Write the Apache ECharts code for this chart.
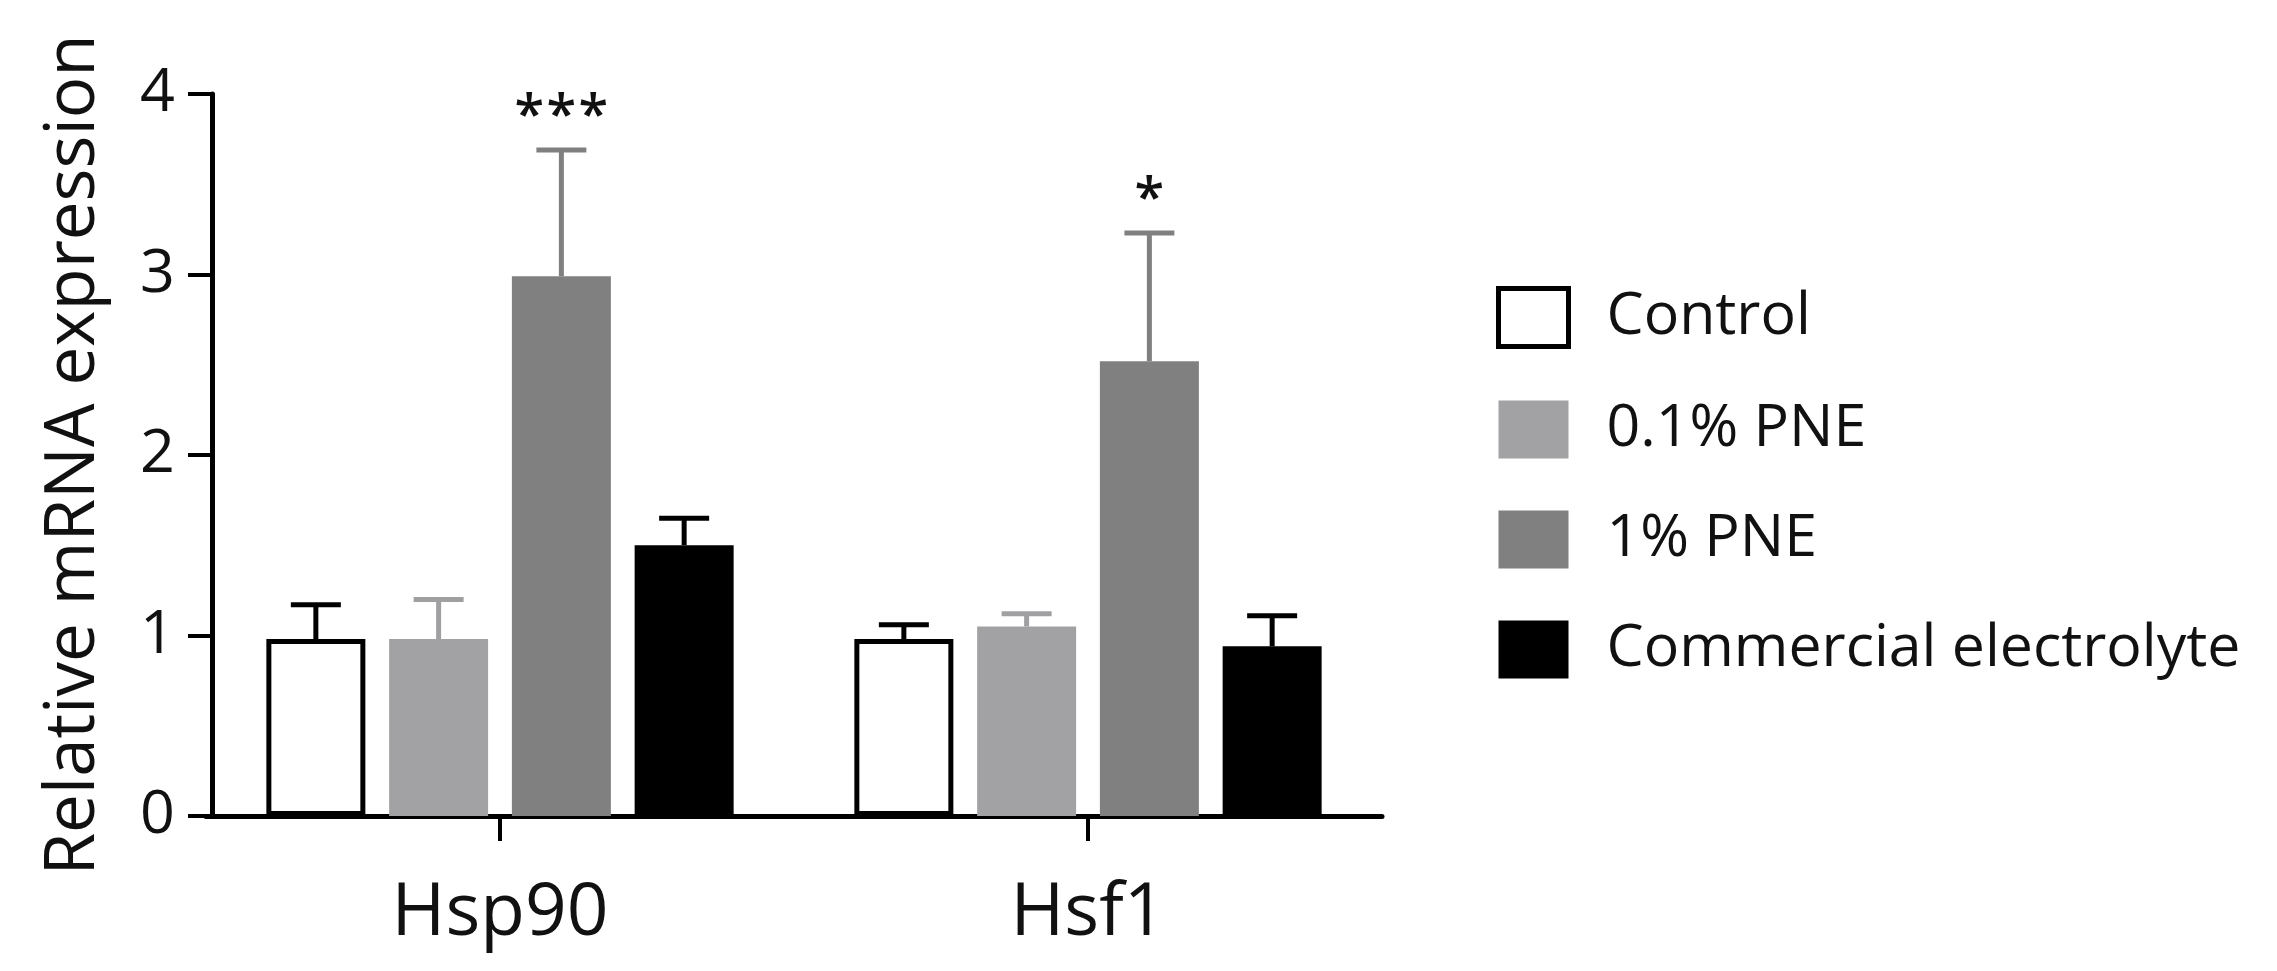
<!DOCTYPE html>
<html>
<head>
<meta charset="utf-8">
<script src="https://cdn.jsdelivr.net/npm/echarts@6/dist/echarts.min.js"></script>
<style>
  html, body { margin: 0; padding: 0; background: #ffffff; }
  #chart { width: 2277px; height: 971px; }
</style>
</head>
<body>
<div id="chart"></div>
<script>
// ---- data ----
const categories = ['Hsp90', 'Hsf1'];
const groups = ['Control', '0.1% PNE', '1% PNE', 'Commercial electrolyte'];
const controlMean = [0.98, 0.98];
const controlSem = [0.19, 0.08];
const pne01Mean = [0.98, 1.05];
const pne01Sem = [0.22, 0.07];
const pne1Mean = [2.99, 2.52];
const pne1Sem = [0.70, 0.71];
const commercialMean = [1.50, 0.94];
const commercialSem = [0.15, 0.17];
const pne1Sig = ['***', '*'];
const yTicks = [0, 1, 2, 3, 4];
const yTitle = 'Relative mRNA expression';

// ---- styles ----
const FONT = 'Open Sans';
const TXT = '#111111';
const BAR_W = 99;
const BAR_GAP_RATIO = 0.24;
const CAP_W = 50;
const ERR_LW = 5;
const seriesStyles = [
  { color: '#ffffff', border: '#000000', bw: 5, err: '#000000' },
  { color: '#a2a2a4', border: null, bw: 0, err: '#a0a0a2' },
  { color: '#808080', border: null, bw: 0, err: '#808080' },
  { color: '#000000', border: null, bw: 0, err: '#000000' }
];
const means = [controlMean, pne01Mean, pne1Mean, commercialMean];
const sems = [controlSem, pne01Sem, pne1Sem, commercialSem];
const sigs = [null, null, pne1Sig, null];

function makeErrRender(i) {
  return function (params, api) {
    const cat = api.value(0), mean = api.value(1), sem = api.value(2);
    const base = api.coord([cat, mean]);
    const top = api.coord([cat, mean + sem]);
    const step = BAR_W * (1 + BAR_GAP_RATIO);
    const x = base[0] + (i - 1.5) * step;
    const col = seriesStyles[i].err;
    const children = [
      { type: 'line', shape: { x1: x, y1: base[1], x2: x, y2: top[1] }, style: { stroke: col, lineWidth: ERR_LW } },
      { type: 'line', shape: { x1: x - CAP_W / 2, y1: top[1], x2: x + CAP_W / 2, y2: top[1] }, style: { stroke: col, lineWidth: ERR_LW } }
    ];
    const sigArr = sigs[i];
    if (sigArr && sigArr[params.dataIndex]) {
      const s = sigArr[params.dataIndex];
      const n = s.length;
      const sp = 32;
      for (let k = 0; k < n; k++) {
        children.push({
          type: 'text',
          style: {
            text: s[k], x: x + (k - (n - 1) / 2) * sp, y: top[1] - 32,
            align: 'center', verticalAlign: 'middle',
            font: '600 54px "' + FONT + '"', fill: TXT
          }
        });
      }
    }
    return { type: 'group', children: children };
  };
}

const series = [];
groups.forEach(function (g, i) {
  const st = seriesStyles[i];
  series.push({
    name: g, type: 'bar', barWidth: BAR_W, barGap: (BAR_GAP_RATIO * 100) + '%',
    itemStyle: { color: st.color, borderColor: st.border || st.color, borderWidth: st.bw },
    data: means[i],
    silent: true, z: 2
  });
});
groups.forEach(function (g, i) {
  series.push({
    name: 'err-' + g, type: 'custom', renderItem: makeErrRender(i),
    data: categories.map(function (c, k) { return [k, means[i][k], sems[i][k]]; }),
    z: 3, silent: true
  });
});

const chart = echarts.init(document.getElementById('chart'), null, { renderer: 'canvas' });
chart.setOption({
  backgroundColor: '#ffffff',
  animation: false,
  textStyle: { fontFamily: FONT, color: TXT },
  grid: { left: 206, top: 94, width: 1176, height: 722, containLabel: false },
  legend: {
    orient: 'vertical', left: 1491, top: 281,
    itemWidth: 70, itemHeight: 58, itemGap: 51, icon: 'rect',
    selectedMode: false,
    textStyle: { fontFamily: FONT, fontSize: 59, color: TXT, padding: [0, 0, 0, 33] },
    data: groups.map(function (g, i) {
      const st = seriesStyles[i];
      return { name: g, itemStyle: { color: st.color, borderColor: st.border || st.color, borderWidth: st.bw } };
    })
  },
  xAxis: {
    type: 'category', data: categories,
    axisLine: { show: true, lineStyle: { color: '#000', width: 5 } },
    axisTick: { show: true, alignWithLabel: true, length: 25, lineStyle: { color: '#000', width: 4 } },
    axisLabel: { fontFamily: FONT, fontSize: 73, color: TXT, margin: 62 },
    splitLine: { show: false }
  },
  yAxis: {
    type: 'value', min: yTicks[0], max: yTicks[yTicks.length - 1], interval: 1,
    offset: -6,
    name: yTitle, nameLocation: 'middle', nameGap: 103, nameRotate: 90,
    nameTextStyle: { fontFamily: FONT, fontSize: 69, color: TXT },
    axisLine: { show: true, lineStyle: { color: '#000', width: 5 } },
    axisTick: { show: true, length: 24, lineStyle: { color: '#000', width: 4 } },
    axisLabel: { fontFamily: FONT, fontSize: 61, color: TXT, margin: 37 },
    splitLine: { show: false }
  },
  series: series
});
</script>
</body>
</html>
